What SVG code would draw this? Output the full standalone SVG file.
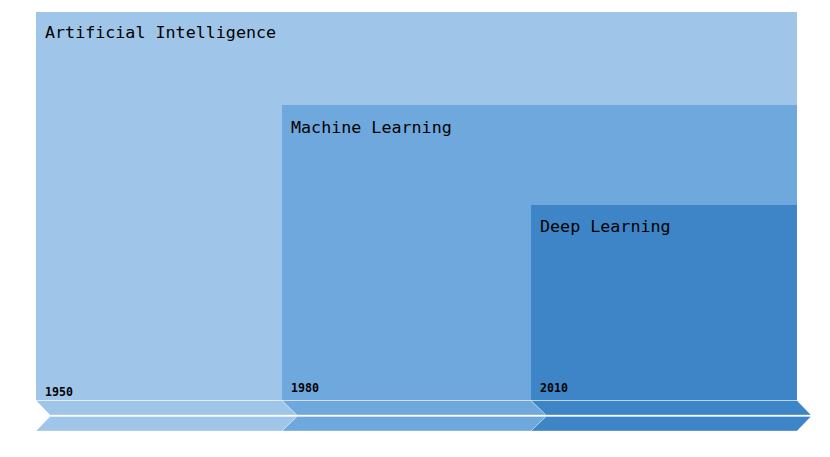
<svg xmlns="http://www.w3.org/2000/svg" width="830" height="457" viewBox="0 0 830 457">
<style>
.ai{fill:#9fc5e8}
.ml{fill:#6fa8dc}
.dl{fill:#3d85c6}
.band{stroke:#ffffff;stroke-opacity:0.35;stroke-width:1}
.title{font-family:"DejaVu Sans Mono","Liberation Mono",monospace;font-size:16.7px;fill:#000000}
.year{font-family:"DejaVu Sans Mono","Liberation Mono",monospace;font-size:11.6px;font-weight:bold;fill:#000000}
</style>
<rect width="830" height="457" fill="#ffffff"/>
<g id="ai">
<rect class="ai" x="36" y="12" width="761" height="388"/>
<text class="title" x="45" y="38">Artificial Intelligence</text>
<text class="year" x="45" y="395.5">1950</text>
</g>
<g id="ml">
<rect class="ml" x="282" y="105" width="515" height="295"/>
<text class="title" x="291" y="133">Machine Learning</text>
<text class="year" x="291" y="392">1980</text>
</g>
<g id="dl">
<rect class="dl" x="531" y="205" width="266" height="195"/>
<text class="title" x="540" y="232">Deep Learning</text>
<text class="year" x="540" y="392">2010</text>
</g>
<g id="timeline">
<polygon class="ai band" points="36,400.5 282,400.5 297,415 50,415"/>
<polygon class="ai band" points="50,416.5 297,416.5 282,431 36,431"/>
<polygon class="ml band" points="282,400.5 531,400.5 546,415 297,415"/>
<polygon class="ml band" points="297,416.5 546,416.5 531,431 282,431"/>
<polygon class="dl band" points="531,400.5 797,400.5 811,415 546,415"/>
<polygon class="dl band" points="546,416.5 811,416.5 797,431 531,431"/>
</g>
</svg>
